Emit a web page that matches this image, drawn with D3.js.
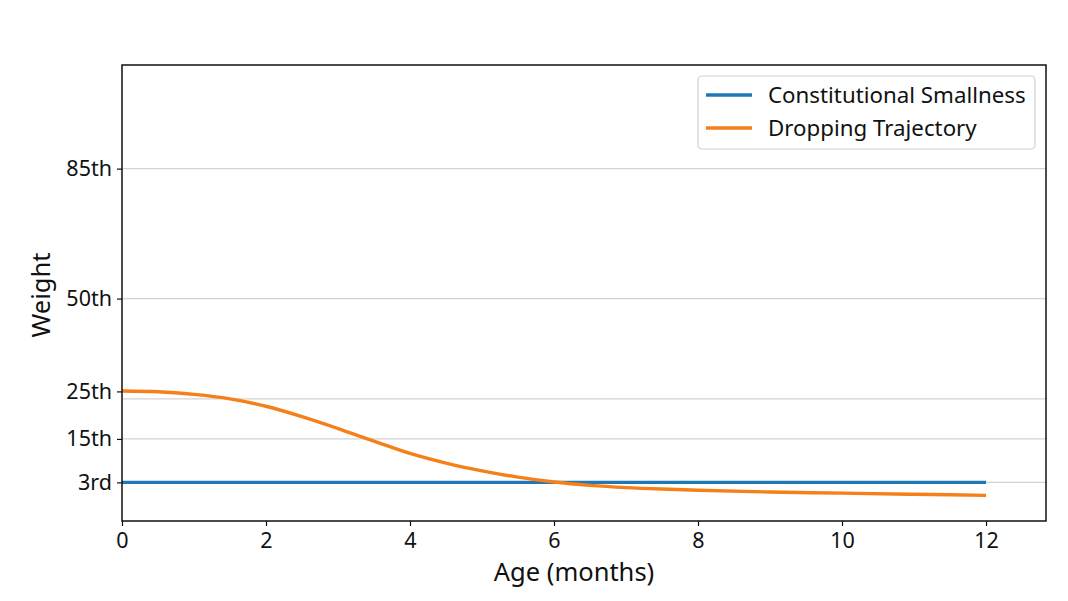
<!DOCTYPE html>
<html>
<head>
<meta charset="utf-8">
<script src="https://cdn.jsdelivr.net/npm/d3@7"></script>
<style>
  body { margin: 0; background: #fff; }
  svg { display: block; font-family: "Noto Sans", "Open Sans", sans-serif; }
</style>
</head>
<body>
<svg id="chart" width="1068" height="601"></svg>
<script>
// ---- data ----
const ageMonths = [0, 0.5, 1, 1.5, 2, 2.5, 3, 3.5, 4, 4.5, 5, 5.5, 6, 6.5, 7, 7.5, 8, 9, 10, 11, 12];
const droppingTrajectory = [25.1, 24.9, 24.2, 23.0, 21.0, 18.2, 15.0, 11.6, 8.3, 5.7, 3.6, 1.9, 0.6, -0.3, -0.9, -1.3, -1.6, -2.1, -2.4, -2.7, -3.0];
const constitutionalAge = [0, 12];
const constitutionalSmallness = [0.5, 0.5];
const yTickValues = [0.5, 12.2, 25, 50, 85];
const yTickLabels = ["3rd", "15th", "25th", "50th", "85th"];
const gridValues = [0.5, 12.2, 23, 50, 85];
const xTickValues = [0, 2, 4, 6, 8, 10, 12];
const seriesNames = ["Constitutional Smallness", "Dropping Trajectory"];
const seriesColors = ["#1f77b4", "#f5801a"];

// ---- layout ----
const svg = d3.select("#chart");
const mLeft = 122, mRight = 1046, mTop = 65, mBottom = 521;
const x = d3.scaleLinear().domain([0, 12.833]).range([mLeft, mRight]);
const y = d3.scaleLinear().domain([-9.9, 112.9]).range([mBottom, mTop]);

// grid
svg.append("g").selectAll("line").data(gridValues).join("line")
  .attr("x1", mLeft).attr("x2", mRight)
  .attr("y1", d => y(d)).attr("y2", d => y(d))
  .attr("stroke", "#d4d4d4").attr("stroke-width", 1.2);

// lines
const line = d3.line().x(d => x(d[0])).y(d => y(d[1])).curve(d3.curveMonotoneX);
svg.append("path")
  .datum(constitutionalAge.map((a, i) => [a, constitutionalSmallness[i]]))
  .attr("d", line).attr("fill", "none")
  .attr("stroke", seriesColors[0]).attr("stroke-width", 3.4);
svg.append("path")
  .datum(ageMonths.map((a, i) => [a, droppingTrajectory[i]]))
  .attr("d", line).attr("fill", "none")
  .attr("stroke", seriesColors[1]).attr("stroke-width", 3.4);

// axes
const xAxis = svg.append("g").attr("transform", `translate(0,${mBottom})`)
  .call(d3.axisBottom(x).tickValues(xTickValues).tickFormat(d3.format("d")).tickSize(5).tickPadding(7));
const yAxis = svg.append("g").attr("transform", `translate(${mLeft},0)`)
  .call(d3.axisLeft(y).tickValues(yTickValues).tickFormat((d, i) => yTickLabels[i]).tickSize(5).tickPadding(5));
[xAxis, yAxis].forEach(g => {
  g.select(".domain").remove();
  g.selectAll("text").attr("font-size", 21.5).attr("fill", "#111")
    .attr("font-family", "'Noto Sans', sans-serif");
  g.selectAll("line").attr("stroke", "#111").attr("stroke-width", 1.2);
});

// frame
svg.append("rect").attr("x", mLeft).attr("y", mTop)
  .attr("width", mRight - mLeft).attr("height", mBottom - mTop)
  .attr("fill", "none").attr("stroke", "#111").attr("stroke-width", 1.5);

// axis labels
svg.append("text").attr("x", 574).attr("y", 581)
  .attr("text-anchor", "middle").attr("font-size", 25.5).attr("fill", "#111")
  .text("Age (months)");
svg.append("text").attr("transform", `translate(50,${(mTop + mBottom) / 2 + 2}) rotate(-90)`)
  .attr("text-anchor", "middle").attr("font-size", 25.5).attr("fill", "#111")
  .text("Weight");

// legend
const lg = svg.append("g");
lg.append("rect").attr("x", 698).attr("y", 76).attr("width", 337).attr("height", 73)
  .attr("rx", 4).attr("fill", "#fff").attr("stroke", "#d0d0d0").attr("stroke-width", 1.2);
seriesNames.forEach((name, i) => {
  const yy = 95 + i * 33;
  lg.append("line").attr("x1", 706).attr("x2", 752).attr("y1", yy).attr("y2", yy)
    .attr("stroke", seriesColors[i]).attr("stroke-width", 3.4);
  lg.append("text").attr("x", 768).attr("y", yy + 8).attr("font-size", 22.3).attr("fill", "#111")
    .text(name);
});
</script>
</body>
</html>
